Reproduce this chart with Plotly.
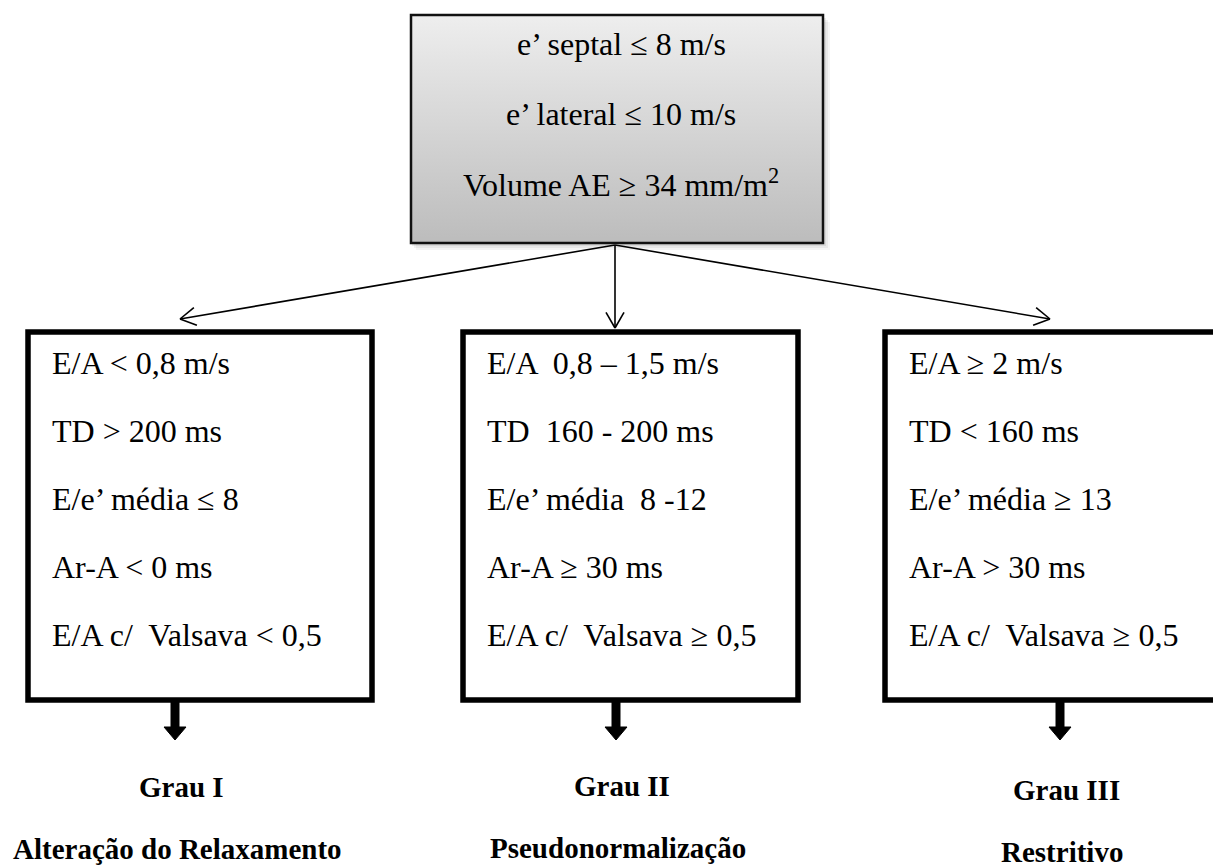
import math
import plotly.graph_objects as go

# ---------------- content ----------------
top_lines = ["e’ septal ≤ 8 m/s", "e’ lateral ≤ 10 m/s", "Volume AE ≥ 34 mm/m<sup>2</sup>"]
grade1_lines = ["E/A &lt; 0,8 m/s", "TD &gt; 200 ms", "E/e’ média ≤ 8", "Ar-A &lt; 0 ms", "E/A c/  Valsava &lt; 0,5"]
grade2_lines = ["E/A  0,8 – 1,5 m/s", "TD  160 - 200 ms", "E/e’ média  8 -12", "Ar-A ≥ 30 ms", "E/A c/  Valsava ≥ 0,5"]
grade3_lines = ["E/A ≥ 2 m/s", "TD &lt; 160 ms", "E/e’ média ≥ 13", "Ar-A &gt; 30 ms", "E/A c/  Valsava ≥ 0,5"]
grade_titles = ["Grau I", "Grau II", "Grau III"]
grade_names = ["Alteração do Relaxamento", "Pseudonormalização", "Restritivo"]

# ---------------- layout constants (pixels) ----------------
W, H = 1213, 867
FONT = "Liberation Serif, Times New Roman, serif"
top_box = dict(x0=411, y0=15, x1=823, y1=243)
boxes = [dict(x0=28, y0=332, x1=372, y1=700),
         dict(x0=463, y0=332, x1=798, y1=700),
         dict(x0=885, y0=332, x1=1230, y1=700)]
arrow_origin = (615, 245)
arrow_tips = [(180, 319), (615, 328), (1050, 319)]
down_x = [175, 616, 1060]
label_dy = [0, -1, 3]
text_pad = 22
fs = 32

fig = go.Figure()
shapes = []
ann = []

# shadow of top box
for off, a in [(7, 0.04), (5, 0.05), (3, 0.07)]:
    shapes.append(dict(type="rect", xref="x", yref="y",
                       x0=top_box["x0"] + off - 2, y0=top_box["y0"] + off,
                       x1=top_box["x1"] + off, y1=top_box["y1"] + off,
                       line=dict(width=0), fillcolor=f"rgba(0,0,0,{a})", layer="below"))

# gradient fill of top box
fig.add_trace(go.Scatter(
    x=[top_box["x0"], top_box["x1"], top_box["x1"], top_box["x0"], top_box["x0"]],
    y=[top_box["y0"], top_box["y0"], top_box["y1"], top_box["y1"], top_box["y0"]],
    mode="lines", line=dict(width=0), fill="toself",
    fillgradient=dict(type="vertical", start=top_box["y0"], stop=top_box["y1"],
                      colorscale=[[0, "#eeeeee"], [1, "#bcbcbc"]]),
    hoverinfo="skip", showlegend=False))
shapes.append(dict(type="rect", xref="x", yref="y", **top_box,
                   line=dict(color="#111111", width=2.5), fillcolor="rgba(0,0,0,0)", layer="above"))

# top box text
cx = (top_box["x0"] + top_box["x1"]) / 2 + 4
for i, t in enumerate(top_lines):
    base = 54 + i * 69.5
    ann.append(dict(x=cx, y=base - 10, text=t, showarrow=False, xanchor="center", yanchor="middle",
                    font=dict(family=FONT, size=fs, color="black")))

# connector arrows with open heads
ox, oy = arrow_origin
for tx, ty in arrow_tips:
    shapes.append(dict(type="line", xref="x", yref="y", x0=ox, y0=oy, x1=tx, y1=ty,
                       line=dict(color="black", width=1.6)))
    ang = math.atan2(oy - ty, ox - tx)
    L, da = 18, math.radians(30)
    for s in (-1, 1):
        shapes.append(dict(type="line", xref="x", yref="y", x0=tx, y0=ty,
                           x1=tx + L * math.cos(ang + s * da), y1=ty + L * math.sin(ang + s * da),
                           line=dict(color="black", width=1.6)))

# grade boxes + text
for b, lines, dx, t1, t2, dy in zip(boxes, [grade1_lines, grade2_lines, grade3_lines],
                                    down_x, grade_titles, grade_names, label_dy):
    shapes.append(dict(type="rect", xref="x", yref="y", **b,
                       line=dict(color="black", width=5.5), fillcolor="white", layer="below"))
    for i, t in enumerate(lines):
        base = b["y0"] + 41 + i * 68
        ann.append(dict(x=b["x0"] + text_pad, y=base - 10, text=t, showarrow=False,
                        xanchor="left", yanchor="middle",
                        font=dict(family=FONT, size=fs, color="black")))
    # thick down arrow
    shapes.append(dict(type="line", xref="x", yref="y", x0=dx, y0=b["y1"], x1=dx, y1=729,
                       line=dict(color="black", width=9)))
    shapes.append(dict(type="path", xref="x", yref="y",
                       path=f"M {dx-11},727 L {dx+11},727 L {dx},740 Z",
                       fillcolor="black", line=dict(color="black", width=1)))
    # labels
    ann.append(dict(x=dx + 6, y=797 + dy - 10, text=f"<b>{t1}</b>", showarrow=False,
                    xanchor="center", yanchor="middle",
                    font=dict(family=FONT, size=29, color="black")))
    ann.append(dict(x=dx + 2, y=859 + dy - 10, text=f"<b>{t2}</b>", showarrow=False,
                    xanchor="center", yanchor="middle",
                    font=dict(family=FONT, size=29, color="black")))

fig.update_layout(
    width=W, height=H, margin=dict(l=0, r=0, t=0, b=0),
    paper_bgcolor="white", plot_bgcolor="white",
    xaxis=dict(range=[0, W], visible=False, fixedrange=True),
    yaxis=dict(range=[H, 0], visible=False, fixedrange=True),
    shapes=shapes, annotations=ann, showlegend=False,
)
fig.write_html("out.html",
               config={"displayModeBar": False},
               post_script="document.body.style.margin='0';document.body.style.overflow='hidden';")
